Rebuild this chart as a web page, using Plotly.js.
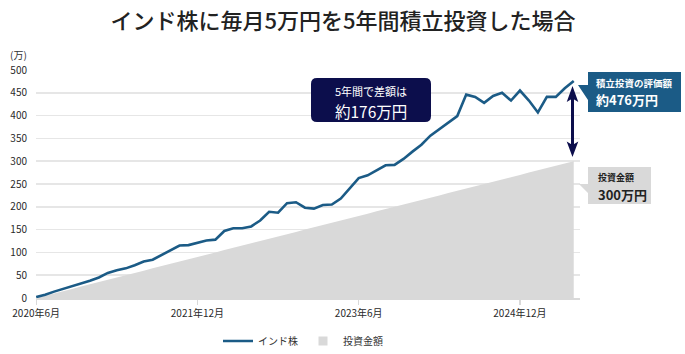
<!DOCTYPE html>
<html>
<head>
<meta charset="utf-8">
<script src="https://cdn.plot.ly/plotly-3.0.1.min.js"></script>
<style>html,body{margin:0;padding:0;background:#fff;}#chart{width:685px;height:354px;}</style>
</head>
<body>
<div id="chart"></div>
<script>
// ---- Data ----
const months = [
  '2020年6月','2020年7月','2020年8月','2020年9月','2020年10月','2020年11月','2020年12月',
  '2021年1月','2021年2月','2021年3月','2021年4月','2021年5月','2021年6月','2021年7月','2021年8月','2021年9月','2021年10月','2021年11月','2021年12月',
  '2022年1月','2022年2月','2022年3月','2022年4月','2022年5月','2022年6月','2022年7月','2022年8月','2022年9月','2022年10月','2022年11月','2022年12月',
  '2023年1月','2023年2月','2023年3月','2023年4月','2023年5月','2023年6月','2023年7月','2023年8月','2023年9月','2023年10月','2023年11月','2023年12月',
  '2024年1月','2024年2月','2024年3月','2024年4月','2024年5月','2024年6月','2024年7月','2024年8月','2024年9月','2024年10月','2024年11月','2024年12月',
  '2025年1月','2025年2月','2025年3月','2025年4月','2025年5月','2025年6月'
];
const indiaStock = [
  2, 7, 14, 20, 25, 31, 38, 45, 55, 61, 65, 72, 80, 84, 94, 105, 115, 116, 121, 126,
  128, 147, 153, 153, 157, 170, 189, 187, 208, 210, 198, 196, 204, 205, 218, 240, 263, 269, 280, 291,
  292, 305, 321, 336, 356, 370, 385, 399, 446, 441, 428, 443, 450, 433, 455, 433, 407, 441, 441, 460,
  476
];
const invested = [
  0, 5, 10, 15, 20, 25, 30, 35, 40, 45, 50, 55, 60, 65, 70, 75, 80, 85, 90, 95,
  100, 105, 110, 115, 120, 125, 130, 135, 140, 145, 150, 155, 160, 165, 170, 175, 180, 185, 190, 195,
  200, 205, 210, 215, 220, 225, 230, 235, 240, 245, 250, 255, 260, 265, 270, 275, 280, 285, 290, 295,
  300
];
const tickLabels = ['2020年6月','2021年12月','2023年6月','2024年12月'];
const yTicks = [0, 50, 100, 150, 200, 250, 300, 350, 400, 450, 500];
const seriesNames = ['インド株', '投資金額'];

// ---- Layout helpers (pixel -> paper) ----
const W = 685, H = 354;
const L = 36, T = 70, PW = 544, PH = 228;
const X = px => (px - L) / PW;
const Y = py => (T + PH - py) / PH;
const P = (px, py) => X(px).toFixed(5) + ',' + Y(py).toFixed(5);

function roundRect(x0, y0, x1, y1, r) {
  return 'M' + P(x0 + r, y0) + ' L' + P(x1 - r, y0) + ' Q' + P(x1, y0) + ' ' + P(x1, y0 + r) +
    ' L' + P(x1, y1 - r) + ' Q' + P(x1, y1) + ' ' + P(x1 - r, y1) +
    ' L' + P(x0 + r, y1) + ' Q' + P(x0, y1) + ' ' + P(x0, y1 - r) +
    ' L' + P(x0, y0 + r) + ' Q' + P(x0, y0) + ' ' + P(x0 + r, y0) + ' Z';
}

const FONT = '"Noto Sans CJK JP", "Noto Sans", sans-serif';
const NAVY = '#0c0e4c';
const BLUE = '#1b5b86';
const GREY = '#d9d9d9';

const traces = [
  {
    x: months, y: invested, name: seriesNames[1], type: 'scatter', mode: 'none',
    fill: 'tozeroy', fillcolor: GREY, showlegend: false, hoverinfo: 'skip'
  },
  {
    x: months, y: indiaStock, name: seriesNames[0], type: 'scatter', mode: 'lines',
    line: {color: BLUE, width: 2.6}, legendrank: 1
  },
  {
    // legend key for the grey area (square swatch)
    x: [null], y: [null], name: seriesNames[1], type: 'scatter', mode: 'markers',
    marker: {symbol: 'square', size: 9, color: GREY}, legendrank: 2
  }
];

const shapes = [
  {type: 'path', xref: 'paper', yref: 'paper', path: roundRect(311, 78, 431, 122, 6),
   fillcolor: NAVY, line: {width: 0}},
  {type: 'path', xref: 'paper', yref: 'paper',
   path: 'M' + P(588, 72) + ' L' + P(681, 72) + ' L' + P(681, 112) + ' L' + P(588, 112) +
         ' L' + P(588, 100) + ' L' + P(578, 85) + ' L' + P(588, 85) + ' Z',
   fillcolor: BLUE, line: {width: 0}},
  {type: 'path', xref: 'paper', yref: 'paper',
   path: 'M' + P(588, 167) + ' L' + P(651, 167) + ' L' + P(651, 204) + ' L' + P(588, 204) +
         ' L' + P(588, 193) + ' L' + P(579, 184) + ' L' + P(588, 184) + ' Z',
   fillcolor: GREY, line: {width: 0}},
  {type: 'line', xref: 'paper', yref: 'paper', x0: X(572.5), x1: X(572.5), y0: Y(97), y1: Y(146),
   line: {color: NAVY, width: 3}},
  {type: 'path', xref: 'paper', yref: 'paper',
   path: 'M' + P(572.5, 86) + ' L' + P(578.3, 102) + ' L' + P(572.5, 98.5) + ' L' + P(566.7, 102) + ' Z',
   fillcolor: NAVY, line: {width: 0}},
  {type: 'path', xref: 'paper', yref: 'paper',
   path: 'M' + P(572.5, 157) + ' L' + P(578.3, 141.5) + ' L' + P(572.5, 145) + ' L' + P(566.7, 141.5) + ' Z',
   fillcolor: NAVY, line: {width: 0}}
];

const ann = (text, px, py, size, color, xanchor) => ({
  text: text, xref: 'paper', yref: 'paper', x: X(px), y: Y(py),
  xanchor: xanchor || 'center', yanchor: 'middle', showarrow: false,
  font: {family: FONT, size: size, color: color}
});

const annotations = [
  ann('(万)', 18, 55, 10, '#333333', 'center'),
  ann('5年間で差額は', 371, 91, 11, '#ffffff', 'center'),
  ann('約176万円', 371, 111, 15.5, '#ffffff', 'center'),
  ann('<b>積立投資の評価額</b>', 594, 82.5, 9.5, '#ffffff', 'left'),
  ann('<b>約476万円</b>', 594, 99.5, 13, '#ffffff', 'left'),
  ann('<b>投資金額</b>', 596, 177.5, 9, '#222222', 'left'),
  ann('<b>300万円</b>', 596, 194.5, 13, '#222222', 'left')
];

const layout = {
  width: W, height: H,
  margin: {l: L, r: W - L - PW, t: T, b: H - T - PH, pad: 0, autoexpand: false},
  paper_bgcolor: '#ffffff', plot_bgcolor: '#ffffff',
  font: {family: FONT, size: 10, color: '#333333'},
  title: {text: 'インド株に毎月5万円を5年間積立投資した場合', x: 343 / W, xref: 'container', xanchor: 'center',
          y: 1 - 21 / H, yref: 'container', yanchor: 'middle',
          font: {family: FONT, size: 22, color: '#222222', weight: 500}},
  xaxis: {
    type: 'category', range: [-0.02, 60.7], tickmode: 'array', tickvals: tickLabels, ticktext: tickLabels,
    showgrid: false, zeroline: false, showline: true, linecolor: '#d9d9d9', linewidth: 1.5,
    ticks: 'outside', ticklen: 5, tickcolor: '#d9d9d9', tickwidth: 1.2,
    tickfont: {family: FONT, size: 10, color: '#2a2a2a'}, fixedrange: true
  },
  yaxis: {
    range: [0, 500], tickmode: 'array', tickvals: yTicks, ticktext: yTicks.map(String),
    showgrid: true, gridcolor: '#e6e6e6', gridwidth: 1.5, zeroline: false, showline: false,
    ticks: '', ticklabelstandoff: 8,
    tickfont: {family: FONT, size: 10, color: '#2a2a2a'}, fixedrange: true
  },
  showlegend: true,
  legend: {orientation: 'h', x: X(303), xanchor: 'center', y: Y(341), yanchor: 'middle',
           font: {family: FONT, size: 10, color: '#333333'}, itemwidth: 30, bgcolor: 'rgba(0,0,0,0)'},
  shapes: shapes,
  annotations: annotations
};

Plotly.newPlot('chart', traces, layout, {displayModeBar: false, staticPlot: true});
</script>
</body>
</html>
